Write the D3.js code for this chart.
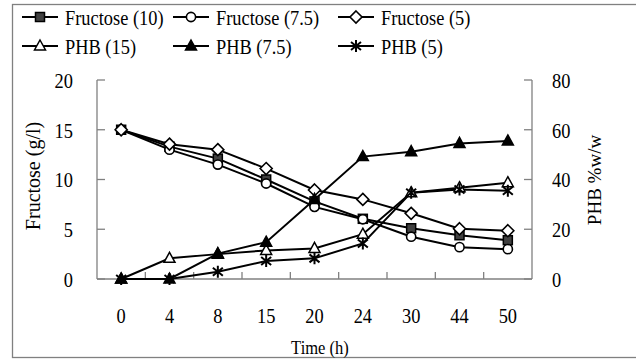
<!DOCTYPE html>
<html>
<head>
    <title>Fructose and PHB over time</title>
    <script src="https://d3js.org/d3.v7.min.js"></script>
    <style>
        body { margin: 0; background: #fff; }
        svg text { font-family: 'Liberation Serif', 'Times New Roman', 'DejaVu Serif', serif; fill: #000; }
        .axis-line { stroke: #808080; stroke-width: 1.3; }
        .series { fill: none; stroke: #000; stroke-width: 2; }
    </style>
</head>
<body>
    <svg id="chart" width="636" height="362"></svg>

    <script>
        // chart data
        const times = ['0', '4', '8', '15', '20', '24', '30', '44', '50'];
        const fructose10 = [15, 13.3, 12.1, 10.0, 7.8, 6.05, 5.1, 4.4, 3.9];
        const fructose75 = [15, 13.0, 11.5, 9.6, 7.25, 6.0, 4.25, 3.2, 3.0];
        const fructose5 = [15, 13.55, 13.0, 11.1, 8.95, 8.0, 6.6, 5.05, 4.85];
        const phb15 = [0, 8.3, 10.0, 11.5, 12.3, 18.0, 34.7, 36.7, 38.7];
        const phb75 = [0, 0, 10.2, 14.8, 32.0, 49.2, 51.2, 54.5, 55.5];
        const phb5 = [0, 0, 2.9, 7.2, 8.3, 14.3, 34.7, 36.0, 35.5];
        const leftTicks = [0, 5, 10, 15, 20];
        const rightTicks = [0, 20, 40, 60, 80];

        const series = [
            { name: 'Fructose (10)', values: fructose10, axis: 'left', marker: 'square' },
            { name: 'Fructose (7.5)', values: fructose75, axis: 'left', marker: 'circle' },
            { name: 'Fructose (5)', values: fructose5, axis: 'left', marker: 'diamond' },
            { name: 'PHB (15)', values: phb15, axis: 'right', marker: 'triangle' },
            { name: 'PHB (7.5)', values: phb75, axis: 'right', marker: 'triangleFilled' },
            { name: 'PHB (5)', values: phb5, axis: 'right', marker: 'star' }
        ];

        const svg = d3.select('#chart');
        const serif = "'Liberation Serif', 'Times New Roman', 'DejaVu Serif', serif";
        const squeeze = 0.92; // text in the picture is a little narrow

        // outer frame
        svg.append('rect')
            .attr('x', 12.5).attr('y', 4.5)
            .attr('width', 640).attr('height', 353)
            .attr('fill', 'none').attr('stroke', '#808080').attr('stroke-width', 1.3);

        const xScale = d3.scaleBand().domain(times).range([97, 532]);
        const yLeft = d3.scaleLinear().domain([0, 20]).range([279, 80]);
        const yRight = d3.scaleLinear().domain([0, 80]).range([279, 80]);

        function label(x, y, str, size, anchor) {
            return svg.append('text')
                .attr('transform', `translate(${x},${y}) scale(${squeeze},1)`)
                .attr('font-family', serif)
                .attr('font-size', size)
                .attr('text-anchor', anchor || 'start')
                .attr('dominant-baseline', 'central')
                .text(str);
        }

        // axes lines
        const x0 = xScale.range()[0], x1 = xScale.range()[1];
        svg.append('line').attr('class', 'axis-line')
            .attr('x1', x0).attr('x2', x0).attr('y1', yLeft(20)).attr('y2', yLeft(0));
        svg.append('line').attr('class', 'axis-line')
            .attr('x1', x1).attr('x2', x1).attr('y1', yRight(80)).attr('y2', yRight(0));
        svg.append('line').attr('class', 'axis-line')
            .attr('x1', x0).attr('x2', x1).attr('y1', yLeft(0)).attr('y2', yLeft(0));

        // ticks, all pointing inward
        leftTicks.forEach(function (t) {
            svg.append('line').attr('class', 'axis-line')
                .attr('x1', x0).attr('x2', x0 + 8).attr('y1', yLeft(t)).attr('y2', yLeft(t));
            label(x0 - 24, yLeft(t) + 1, t, 20, 'end');
        });
        rightTicks.forEach(function (t) {
            svg.append('line').attr('class', 'axis-line')
                .attr('x1', x1 - 8).attr('x2', x1).attr('y1', yRight(t)).attr('y2', yRight(t));
            label(x1 + 20, yRight(t) + 1, t, 20, 'start');
        });
        times.forEach(function (t, i) {
            if (i > 0) {
                svg.append('line').attr('class', 'axis-line')
                    .attr('x1', xScale(t)).attr('x2', xScale(t))
                    .attr('y1', yLeft(0)).attr('y2', yLeft(0) - 7);
            }
            label(xScale(t) + xScale.bandwidth() / 2, 316, t, 20, 'middle');
        });

        // axis titles
        label(320, 348, 'Time (h)', 18, 'middle');
        svg.append('text')
            .attr('transform', `translate(33,176) rotate(-90)`)
            .attr('font-family', serif)
            .attr('font-size', 20).attr('text-anchor', 'middle')
            .attr('dominant-baseline', 'central')
            .text('Fructose (g/l)');
        svg.append('text')
            .attr('transform', `translate(594,180) rotate(-90)`)
            .attr('font-family', serif)
            .attr('font-size', 19).attr('text-anchor', 'middle')
            .attr('dominant-baseline', 'central')
            .text('PHB %w/w');

        // marker drawing
        function drawMarker(g, type, x, y) {
            if (type === 'square') {
                g.append('rect').attr('x', x - 4.5).attr('y', y - 4.5)
                    .attr('width', 9).attr('height', 9)
                    .attr('fill', '#404040').attr('stroke', '#000').attr('stroke-width', 1.5);
            } else if (type === 'circle') {
                g.append('circle').attr('cx', x).attr('cy', y).attr('r', 4.6)
                    .attr('fill', '#fff').attr('stroke', '#000').attr('stroke-width', 1.6);
            } else if (type === 'diamond') {
                g.append('path')
                    .attr('d', `M${x},${y - 6}L${x + 6},${y}L${x},${y + 6}L${x - 6},${y}Z`)
                    .attr('fill', '#fff').attr('stroke', '#000').attr('stroke-width', 1.6);
            } else if (type === 'triangle' || type === 'triangleFilled') {
                g.append('path')
                    .attr('d', `M${x},${y - 6}L${x + 5.5},${y + 4}L${x - 5.5},${y + 4}Z`)
                    .attr('fill', type === 'triangle' ? '#fff' : '#000')
                    .attr('stroke', '#000').attr('stroke-width', 1.5);
            } else if (type === 'star') {
                g.append('path')
                    .attr('d', `M${x},${y - 6}L${x},${y + 6}M${x - 5},${y - 4}L${x + 5},${y + 4}M${x - 5},${y + 4}L${x + 5},${y - 4}`)
                    .attr('fill', 'none').attr('stroke', '#000').attr('stroke-width', 2);
            }
        }

        // series lines and markers
        series.forEach(function (s) {
            const yScale = s.axis === 'left' ? yLeft : yRight;
            const line = d3.line()
                .x(function (d, i) { return xScale(times[i]) + xScale.bandwidth() / 2; })
                .y(function (d) { return yScale(d); });
            svg.append('path').attr('class', 'series').attr('d', line(s.values));
        });
        series.forEach(function (s) {
            const yScale = s.axis === 'left' ? yLeft : yRight;
            const g = svg.append('g');
            s.values.forEach(function (v, i) {
                drawMarker(g, s.marker, xScale(times[i]) + xScale.bandwidth() / 2, yScale(v));
            });
        });

        // legend, two rows of three
        const legendCols = [22, 173, 338];
        const legendRows = [17, 46];
        series.forEach(function (s, i) {
            const lx = legendCols[i % 3];
            const ly = legendRows[Math.floor(i / 3)];
            svg.append('line')
                .attr('x1', lx).attr('x2', lx + 36).attr('y1', ly).attr('y2', ly)
                .attr('stroke', '#000').attr('stroke-width', 2);
            drawMarker(svg.append('g'), s.marker, lx + 18, ly);
            label(lx + 43, ly + 1, s.name, 20, 'start');
        });
    </script>
</body>
</html>
